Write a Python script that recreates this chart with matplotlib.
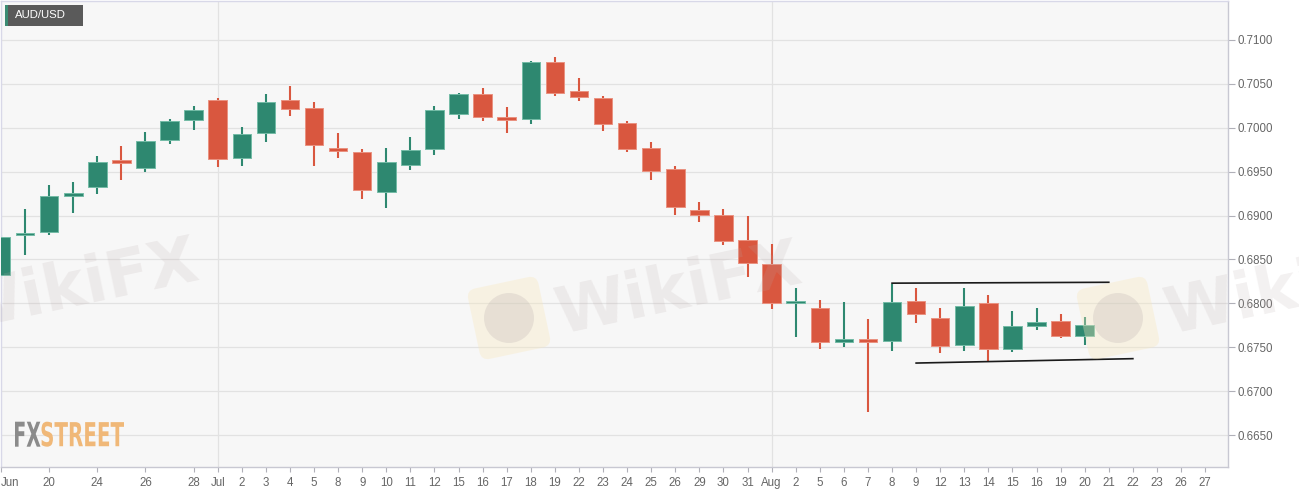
import matplotlib
matplotlib.use("Agg")
import matplotlib.pyplot as plt
from matplotlib.patches import Rectangle, PathPatch, FancyBboxPatch, Circle
from matplotlib.textpath import TextPath
from matplotlib.font_manager import FontProperties
from matplotlib.transforms import Affine2D

# ---------------- data ----------------
sessions = [
    "Jun 18", "Jun 19", "Jun 20", "Jun 21", "Jun 24", "Jun 25", "Jun 26", "Jun 27", "Jun 28",
    "Jul 1", "Jul 2", "Jul 3", "Jul 4", "Jul 5",
    "Jul 8", "Jul 9", "Jul 10", "Jul 11", "Jul 12",
    "Jul 15", "Jul 16", "Jul 17", "Jul 18", "Jul 19",
    "Jul 22", "Jul 23", "Jul 24", "Jul 25", "Jul 26",
    "Jul 29", "Jul 30", "Jul 31", "Aug 1", "Aug 2",
    "Aug 5", "Aug 6", "Aug 7", "Aug 8", "Aug 9",
    "Aug 12", "Aug 13", "Aug 14", "Aug 15", "Aug 16",
    "Aug 19", "Aug 20", "Aug 21", "Aug 22", "Aug 23",
    "Aug 26", "Aug 27",
]

opens = [0.6832, 0.6878, 0.6881, 0.6923, 0.6933, 0.6962, 0.6954, 0.6986, 0.7009,
         0.7032, 0.6966, 0.6994, 0.7032, 0.7022,
         0.6977, 0.6972, 0.6927, 0.6958, 0.6976,
         0.7016, 0.7039, 0.7011, 0.7010, 0.7075,
         0.7042, 0.7034, 0.7006, 0.6977, 0.6953,
         0.6906, 0.6901, 0.6872, 0.6845, 0.6801,
         0.6795, 0.6757, 0.6759, 0.6757, 0.6803,
         0.6783, 0.6752, 0.6800, 0.6748, 0.6774,
         0.6780, 0.6763]
highs = [0.6878, 0.6908, 0.6935, 0.6938, 0.6968, 0.6979, 0.6995, 0.7010, 0.7025,
         0.7034, 0.7001, 0.7039, 0.7048, 0.7029,
         0.6994, 0.6976, 0.6977, 0.6989, 0.7025,
         0.7040, 0.7045, 0.7024, 0.7076, 0.7081,
         0.7057, 0.7036, 0.7008, 0.6984, 0.6956,
         0.6916, 0.6908, 0.6900, 0.6868, 0.6818,
         0.6804, 0.6802, 0.6782, 0.6822, 0.6818,
         0.6795, 0.6817, 0.6809, 0.6791, 0.6795,
         0.6788, 0.6785]
lows = [0.6828, 0.6855, 0.6878, 0.6903, 0.6925, 0.6941, 0.6950, 0.6982, 0.6997,
        0.6955, 0.6957, 0.6984, 0.7013, 0.6957,
        0.6965, 0.6919, 0.6909, 0.6952, 0.6969,
        0.7010, 0.7008, 0.6994, 0.7004, 0.7036,
        0.7030, 0.6996, 0.6972, 0.6941, 0.6901,
        0.6893, 0.6867, 0.6830, 0.6794, 0.6762,
        0.6748, 0.6750, 0.6676, 0.6746, 0.6778,
        0.6744, 0.6746, 0.6734, 0.6745, 0.6770,
        0.6761, 0.6753]
closes = [0.6876, 0.6880, 0.6922, 0.6925, 0.6961, 0.6961, 0.6985, 0.7008, 0.7020,
          0.6964, 0.6993, 0.7029, 0.7021, 0.6980,
          0.6973, 0.6929, 0.6961, 0.6975, 0.7020,
          0.7038, 0.7012, 0.7010, 0.7075, 0.7040,
          0.7035, 0.7004, 0.6976, 0.6951, 0.6910,
          0.6901, 0.6871, 0.6846, 0.6800, 0.6802,
          0.6756, 0.6758, 0.6757, 0.6801, 0.6788,
          0.6751, 0.6797, 0.6748, 0.6774, 0.6779,
          0.6763, 0.6775]

# channel lines (start session, value) -> (end session, value)
upper_line_sessions = ["Aug 8", "Aug 21"]
upper_line_values = [0.6823, 0.6824]
lower_line_sessions = ["Aug 9", "Aug 22"]
lower_line_values = [0.6732, 0.6737]

tick_sessions = ["Jun 18", "Jun 20", "Jun 24", "Jun 26", "Jun 28", "Jul 1", "Jul 2", "Jul 3",
                 "Jul 4", "Jul 5", "Jul 8", "Jul 9", "Jul 10", "Jul 11", "Jul 12", "Jul 15",
                 "Jul 16", "Jul 17", "Jul 18", "Jul 19", "Jul 22", "Jul 23", "Jul 24", "Jul 25",
                 "Jul 26", "Jul 29", "Jul 30", "Jul 31", "Aug 1", "Aug 2", "Aug 5", "Aug 6",
                 "Aug 7", "Aug 8", "Aug 9", "Aug 12", "Aug 13", "Aug 14", "Aug 15", "Aug 16",
                 "Aug 19", "Aug 20", "Aug 21", "Aug 22", "Aug 23", "Aug 26", "Aug 27"]
tick_texts = ["Jun", "20", "24", "26", "28", "Jul", "2", "3", "4", "5", "8", "9", "10", "11",
              "12", "15", "16", "17", "18", "19", "22", "23", "24", "25", "26", "29", "30",
              "31", "Aug", "2", "5", "6", "7", "8", "9", "12", "13", "14", "15", "16", "19",
              "20", "21", "22", "23", "26", "27"]
month_starts = ["Jul 1", "Aug 1"]
y_ticks = [0.6650, 0.6700, 0.6750, 0.6800, 0.6850, 0.6900, 0.6950, 0.7000, 0.7050, 0.7100]
pair_name = "AUD/USD"

# ---------------- style ----------------
GREEN = "#2e8870"
GREEN_EDGE = "#74bba6"
RED = "#d9573f"
RED_EDGE = "#ea9281"
W, H = 1299, 493

plt.rcParams["font.family"] = ["Liberation Sans", "DejaVu Sans"]
fig = plt.figure(figsize=(W / 100, H / 100), dpi=100, facecolor="white")
ax = fig.add_axes([0.5 / W, 1 - 467 / H, 1227.5 / W, 466 / H])
ax.set_facecolor("#f7f7f7")

pos = {s: i for i, s in enumerate(sessions)}
xs = list(range(len(opens)))

# wicks
for i in xs:
    col = GREEN if closes[i] >= opens[i] else RED
    ax.vlines(i, lows[i], highs[i], color=col, lw=1.5, zorder=2)

# bodies
min_h = 0.0003
for i in xs:
    up = closes[i] >= opens[i]
    col = GREEN if up else RED
    ec = GREEN_EDGE if up else RED_EDGE
    lo = min(opens[i], closes[i])
    hgt = abs(closes[i] - opens[i])
    if hgt < min_h:
        lo = (opens[i] + closes[i]) / 2 - min_h / 2
        hgt = min_h
    ax.bar(i, hgt, width=0.77, bottom=lo, color=col, edgecolor=ec, linewidth=0.7, zorder=3)

# channel lines
ax.plot([pos[s] for s in upper_line_sessions], upper_line_values, color="#1a1a1a", lw=1.2, zorder=4)
ax.plot([pos[s] for s in lower_line_sessions], lower_line_values, color="#1a1a1a", lw=1.2, zorder=4)

# axes
ax.set_xlim(-0.02, 50.95)
ax.set_ylim(0.66136, 0.71444)
ax.yaxis.tick_right()
ax.set_yticks(y_ticks)
ax.set_yticklabels([f"{v:.4f}" for v in y_ticks])
ax.set_xticks([pos[s] for s in tick_sessions])
ax.set_xticklabels(tick_texts)
ax.get_xticklabels()[0].set_horizontalalignment("left")
ax.tick_params(axis="y", length=5, width=0.8, color="#b0b0b8", labelsize=8.3,
               labelcolor="#666666", pad=1.5)
ax.tick_params(axis="x", length=3.5, width=0.8, color="#b0b0b8", labelsize=8.3,
               labelcolor="#666666", pad=4)

ax.grid(axis="y", color="#e2e2e2", lw=0.9, zorder=0)
for s in month_starts:
    ax.axvline(pos[s], color="#e2e2e2", lw=0.9, zorder=0)
ax.set_axisbelow(True)

for side in ["left", "top"]:
    ax.spines[side].set_color("#d8d8e8")
    ax.spines[side].set_linewidth(1.0)
for side in ["right", "bottom"]:
    ax.spines[side].set_color("#c8c8d2")
    ax.spines[side].set_linewidth(1.0)

# ---------------- label box ----------------
fig.add_artist(Rectangle((5, H - 26), 78, 21, transform=None, facecolor="#5a5a5a",
                         edgecolor="none", zorder=5))
fig.add_artist(Rectangle((5, H - 26), 2.5, 21, transform=None, facecolor="#3b8b73",
                         edgecolor="none", zorder=6))
fig.text(15 / W, 1 - 15.5 / H, pair_name, color="white", fontsize=8.2, va="center",
         ha="left", zorder=7)

# ---------------- logos / watermarks ----------------
def add_text_path(s, x0, y0, w, h, color, alpha=1.0, weight="bold", stretch="condensed"):
    fp = FontProperties(family="DejaVu Sans", weight=weight, stretch=stretch)
    tp = TextPath((0, 0), s, size=100, prop=fp)
    bb = tp.get_extents()
    tr = Affine2D().translate(-bb.x0, -bb.y0).scale(w / bb.width, h / bb.height).translate(x0, y0)
    p = PathPatch(tp, transform=tr, facecolor=color, edgecolor="none", alpha=alpha, zorder=8)
    fig.add_artist(p)

# FXSTREET logo (bottom-left)
add_text_path("FX", 15, H - 446.7, 25.5, 25, "#8b8b8b")
add_text_path("STREET", 41.5, H - 446.7, 82.5, 25, "#f0b878")

def wiki_mark(logo_cx, logo_cy, text_cx, text_cy):
    rot = Affine2D().rotate_deg_around(logo_cx, H - logo_cy, 12)
    sq = FancyBboxPatch((logo_cx - 36, H - logo_cy - 36), 72, 72,
                        boxstyle="round,pad=0,rounding_size=9", transform=rot,
                        facecolor="#f7e8bd", edgecolor="none", alpha=0.35, zorder=9)
    fig.add_artist(sq)
    c = Circle((logo_cx, H - logo_cy), 25, transform=None, facecolor="#b8adad",
               edgecolor="none", alpha=0.25, zorder=9)
    fig.add_artist(c)
    fig.text(text_cx / W, 1 - text_cy / H, "WikiFX", fontsize=46, fontweight="bold",
             family="DejaVu Sans", color="#b9aaaa", alpha=0.17, rotation=12,
             ha="center", va="center", rotation_mode="anchor", zorder=9)

wiki_mark(-95, 318, 75, 287)
wiki_mark(509, 318, 678, 290)
wiki_mark(1118, 318, 1287, 290)

fig.savefig("out.png", dpi=100, facecolor="white")
